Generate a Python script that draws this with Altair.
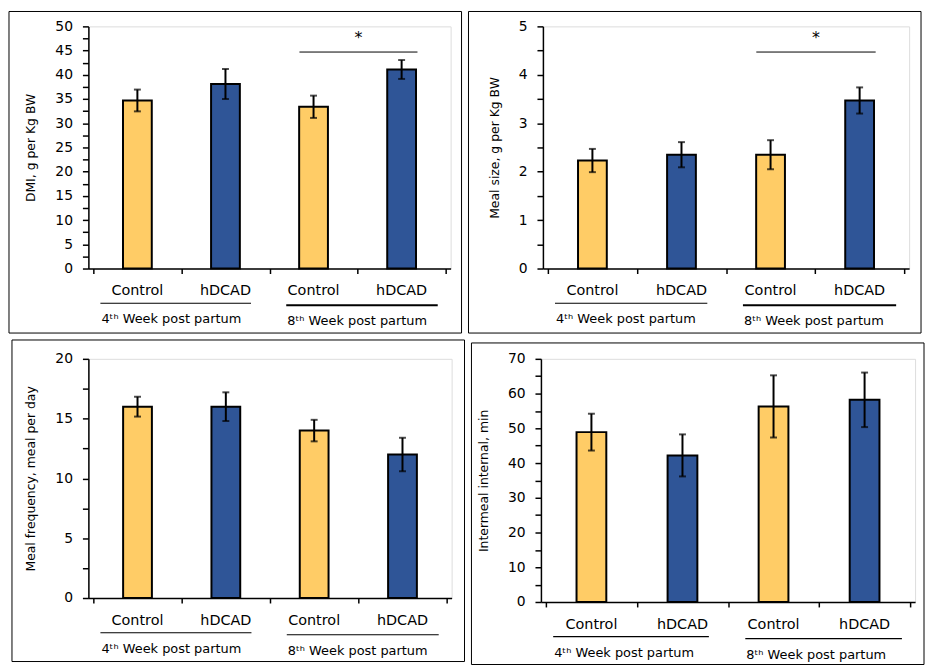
import altair as alt
import pandas as pd

# ---------------- data ----------------
groups = ["Control", "hDCAD", "Control", "hDCAD"]
slots = [0.5, 1.5, 2.5, 3.5]
week_labels = ["4ᵗʰ Week post partum", "8ᵗʰ Week post partum"]

dmi_mean = [34.7, 38.1, 33.4, 41.1]
dmi_sem = [2.25, 3.1, 2.3, 1.95]

mealsize_mean = [2.23, 2.35, 2.35, 3.47]
mealsize_sem = [0.24, 0.26, 0.30, 0.27]

mealfreq_mean = [16.0, 16.0, 14.0, 12.0]
mealfreq_sem = [0.83, 1.2, 0.9, 1.4]

intermeal_mean = [48.9, 42.2, 56.3, 58.2]
intermeal_sem = [5.3, 6.05, 8.95, 7.85]

# ---------------- style / layout ----------------
FONT = "DejaVu Sans"
YELLOW = "#FFCC66"
BLUE = "#2F5597"
week_spans = [(0.08, 1.79), (2.19, 3.91)]


def panel(mean, sem, title, ymax, major, minor, W, H, L, T, R, B, bw,
          sig=None, extra=0, line_w=(1.2, 1.2)):
    df = pd.DataFrame({
        "slot": slots,
        "group": groups,
        "mean": mean,
        "lo": [m - s for m, s in zip(mean, sem)],
        "hi": [m + s for m, s in zip(mean, sem)],
    })
    base = alt.Chart(df)
    n = int(round(ymax / minor))
    yvals = [round(i * minor, 6) for i in range(n + 1)]
    yscale = alt.Scale(domain=[0, ymax], nice=False, zero=True)
    yaxis = alt.Axis(
        values=yvals, title=title, grid=False,
        labelExpr=f"datum.value % {major} == 0 ? datum.label : ''",
        format="~g", tickSize=6, tickColor="black", tickWidth=1.5,
        domainColor="black", domainWidth=1.5, labelPadding=10,
        labelFontSize=14, labelColor="black", titleFontSize=12.5,
        titleColor="black", titleFontWeight="normal", titlePadding=17,
    )
    xscale = alt.Scale(domain=[0, 4], nice=False, zero=False)
    xaxis = alt.Axis(values=[0, 1, 2, 3, 4], labels=False, title=None,
                     tickSize=5, tickColor="black", tickWidth=1.5,
                     domainColor="black", domainWidth=1.5, grid=False)
    X = alt.X("slot:Q", scale=xscale, axis=xaxis)

    bars = base.mark_bar(size=bw, stroke="black", strokeWidth=2).encode(
        x=X,
        y=alt.Y("mean:Q", scale=yscale, axis=yaxis),
        color=alt.Color("group:N", scale=alt.Scale(domain=["Control", "hDCAD"],
                                                   range=[YELLOW, BLUE]),
                        legend=None),
    )
    err = base.mark_rule(strokeWidth=2, color="black").encode(
        x=X, y=alt.Y("lo:Q", scale=yscale, axis=yaxis), y2="hi:Q")
    cap_lo = base.mark_tick(orient="horizontal", size=7, thickness=2,
                            color="black").encode(
        x=X, y=alt.Y("lo:Q", scale=yscale, axis=yaxis))
    cap_hi = base.mark_tick(orient="horizontal", size=7, thickness=2,
                            color="black").encode(
        x=X, y=alt.Y("hi:Q", scale=yscale, axis=yaxis))
    cats = base.mark_text(fontSize=14.5, baseline="alphabetic", font=FONT,
                          color="black").encode(
        x=X, y=alt.value(H + 27 + extra), text="group:N")

    layers = [bars, err, cap_lo, cap_hi, cats]

    for k, (lbl, (s, e)) in enumerate(zip(week_labels, week_spans)):
        wdf = pd.DataFrame({"start": [s], "end": [e], "label": [lbl]})
        wb = alt.Chart(wdf)
        layers.append(wb.mark_rule(color="black", strokeWidth=line_w[k]).encode(
            x=alt.X("start:Q", scale=xscale, axis=xaxis), x2="end:Q",
            y=alt.value(H + 35 + 2 * k + extra)))
        layers.append(wb.mark_text(align="left", dx=1, baseline="alphabetic",
                                   fontSize=13, font=FONT, color="black").encode(
            x=alt.X("start:Q", scale=xscale, axis=xaxis),
            y=alt.value(H + 55 + 2 * k + extra), text="label:N"))

    if sig is not None:
        sdf = pd.DataFrame({"x": [sig[0]], "x2": [sig[1]], "y": [sig[2]],
                            "sx": [(sig[0] + sig[1]) / 2], "sy": [sig[3]],
                            "t": ["*"]})
        sb = alt.Chart(sdf)
        layers.append(sb.mark_rule(color="black", strokeWidth=1).encode(
            x=alt.X("x:Q", scale=xscale, axis=xaxis), x2="x2:Q",
            y=alt.Y("y:Q", scale=yscale, axis=yaxis)))
        layers.append(sb.mark_text(fontSize=16, baseline="alphabetic",
                                   font=FONT, color="black").encode(
            x=alt.X("sx:Q", scale=xscale, axis=xaxis),
            y=alt.Y("sy:Q", scale=yscale, axis=yaxis), text="t:N"))

    frame = alt.Chart(alt.Data(values=[{}])).mark_rect(
        filled=False, stroke="black", strokeWidth=1).encode(
        x=alt.value(-L), x2=alt.value(W + R), y=alt.value(-T), y2=alt.value(H + B))
    layers.append(frame)

    return alt.layer(*layers).properties(width=W, height=H)


p1 = panel(dmi_mean, dmi_sem, "DMI, g per Kg BW", 50, 5, 2.5,
           W=365, H=244, L=80, T=15, R=11, B=65, bw=29,
           sig=(2.34, 3.68, 44.7, 46.6), line_w=(1.2, 2))
p2 = panel(mealsize_mean, mealsize_sem, "Meal size, g per Kg BW", 5, 1, 0.5,
           W=369, H=244, L=75, T=15, R=12, B=65, bw=29,
           sig=(2.34, 3.68, 4.47, 4.66), line_w=(1.2, 2))
p3 = panel(mealfreq_mean, mealfreq_sem, "Meal frequency, meal per day", 20, 5, 2.5,
           W=366, H=241, L=77, T=19, R=13, B=64, bw=29)
p4 = panel(intermeal_mean, intermeal_sem, "Intermeal internal, min", 70, 10, 5,
           W=377, H=245, L=70, T=16, R=9, B=63, bw=30)

chart = alt.vconcat(
    alt.hconcat(p1, p2, spacing=5),
    alt.hconcat(p3, p4, spacing=5),
    spacing=5,
).properties(padding=0).configure_view(strokeWidth=0).configure(
    font=FONT
).configure_axis(labelFont=FONT, titleFont=FONT)

chart.save("out.html", embed_options={"renderer": "svg", "actions": False})
